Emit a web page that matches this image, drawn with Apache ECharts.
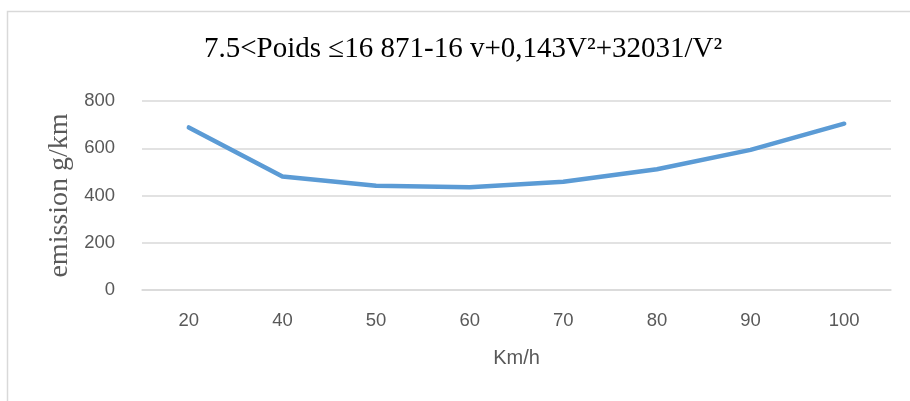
<!DOCTYPE html>
<html>
<head>
<meta charset="utf-8">
<script src="https://cdn.jsdelivr.net/npm/echarts@6/dist/echarts.min.js"></script>
<style>
  html, body { margin: 0; padding: 0; background: #fff; }
  #chart { width: 910px; height: 401px; }
</style>
</head>
<body>
<div id="chart"></div>
<script>
// Speed classes (km/h) and emission values (g/km)
const speeds = ['20', '40', '50', '60', '70', '80', '90', '100'];
const emissions = [688, 480, 441, 435, 458, 511, 593, 704];
const yTicks = [0, 200, 400, 600, 800];

const titleText = '7.5<Poids \u226416 871-16 v+0,143V\u00b2+32031/V\u00b2';
const yName = 'emission g/km';
const xName = 'Km/h';

const chart = echarts.init(document.getElementById('chart'), null, { renderer: 'canvas' });

chart.setOption({
  backgroundColor: '#ffffff',
  animation: false,
  title: {
    text: titleText,
    left: 199,
    top: 30,
    textStyle: {
      fontFamily: 'Liberation Serif',
      fontSize: 29,
      fontWeight: 'normal',
      color: '#000000'
    }
  },
  graphic: [{
    type: 'polyline',
    shape: { points: [[7.5, 401], [7.5, 11.5], [910, 11.5]] },
    style: { stroke: '#d9d9d9', lineWidth: 1.5, fill: null },
    silent: true
  }],
  grid: { left: 142, right: 19, top: 101, bottom: 111, containLabel: false },
  xAxis: {
    type: 'category',
    data: speeds,
    boundaryGap: true,
    name: xName,
    nameLocation: 'middle',
    nameGap: 58,
    nameTextStyle: { fontFamily: 'Liberation Sans', fontSize: 20, color: '#595959' },
    axisLine: { show: true, lineStyle: { color: '#d9d9d9', width: 1.5 } },
    axisTick: { show: false },
    axisLabel: { margin: 21, fontFamily: 'Liberation Sans', fontSize: 18.5, color: '#595959' }
  },
  yAxis: {
    type: 'value',
    min: yTicks[0],
    max: yTicks[yTicks.length - 1],
    interval: 200,
    name: yName,
    nameLocation: 'middle',
    nameGap: 56,
    nameRotate: 90,
    nameTextStyle: { fontFamily: 'Liberation Serif', fontSize: 28, color: '#595959' },
    axisLine: { show: false },
    axisTick: { show: false },
    axisLabel: { margin: 27, fontFamily: 'Liberation Sans', fontSize: 18.5, color: '#595959' },
    splitLine: { show: true, lineStyle: { color: '#d9d9d9', width: 1.5 } }
  },
  series: [{
    type: 'line',
    data: emissions,
    symbol: 'none',
    lineStyle: { color: '#5b9bd5', width: 4.5, cap: 'round', join: 'round' }
  }]
});
</script>
</body>
</html>
